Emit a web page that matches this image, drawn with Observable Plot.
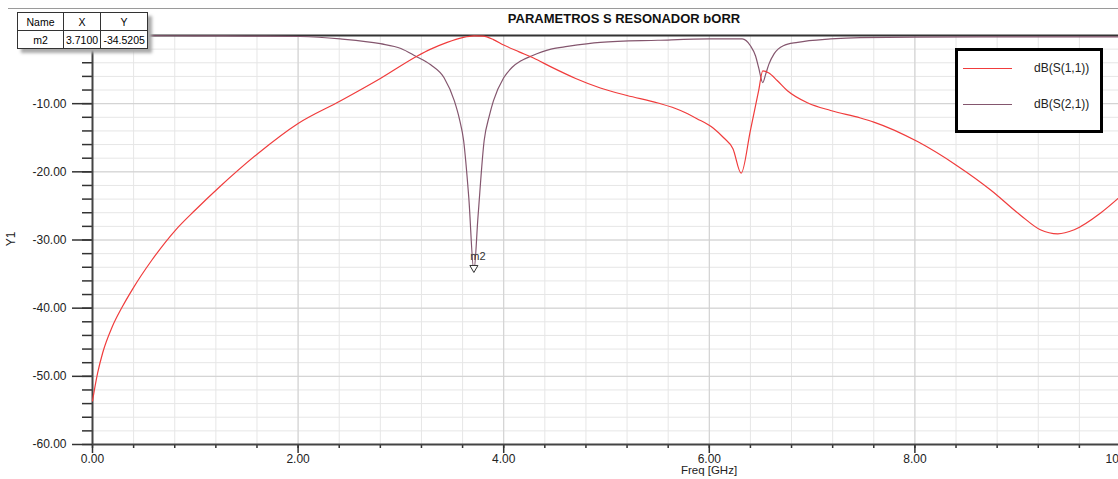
<!DOCTYPE html>
<html>
<head>
<meta charset="utf-8">
<script src="https://cdn.jsdelivr.net/npm/d3@7"></script>
<script src="https://cdn.jsdelivr.net/npm/@observablehq/plot@0.6"></script>
<style>
  html, body { margin: 0; padding: 0; background: #fff; overflow: hidden; }
  #wrap { position: relative; width: 1118px; height: 479px; font-family: "Liberation Sans", Arial, sans-serif; }
  #wrap svg { position: absolute; left: 0; top: 0; }
  .title { position: absolute; left: 0; width: 1248px; top: 11px; text-align: center; font-weight: bold; font-size: 13px; color: #111; }
  .topline { position: absolute; left: 8px; right: 0; top: 8px; height: 1px; background: #9a9a9a; }
  .xlabel { position: absolute; left: 659px; width: 100px; top: 464px; text-align: center; font-size: 11.5px; color: #222; }
  .ylabel { position: absolute; left: 4px; top: 232px; font-size: 12px; color: #222; transform: rotate(-90deg); }
  table.mk { position: absolute; left: 17px; top: 12px; border-collapse: collapse; background: #fff; font-size: 10.5px; box-shadow: 4px 4px 3px #aaa; }
  table.mk td { border: 1px solid #333; text-align: center; padding: 0 2px; height: 17px; }
  .legend { position: absolute; left: 955px; top: 48px; width: 142px; height: 79px; border: 3px solid #000; background: #fff; }
  .legend .row { position: absolute; left: 0; width: 142px; height: 16px; font-size: 12px; color: #222; }
  .legend .sw { position: absolute; left: 5px; top: 7px; width: 49px; height: 0; }
  .legend .lb { position: absolute; left: 76px; top: 0; }
</style>
</head>
<body>
<div id="wrap"></div>
<script>
// ---- data ----
const freqS11 = [0, 0.05, 0.1, 0.19, 0.29, 0.39, 0.58, 0.81, 1.0, 1.23, 1.61, 2.0, 2.41, 2.8, 3.16, 3.29, 3.45, 3.6, 3.71, 3.8, 3.9, 4.0, 4.15, 4.29, 4.46, 4.7, 4.94, 5.2, 5.5, 5.72, 5.88, 6.04, 6.14, 6.23, 6.31, 6.4, 6.48, 6.52, 6.58, 6.66, 6.76, 6.96, 7.18, 7.47, 7.6, 8.03, 8.41, 8.74, 9.03, 9.22, 9.39, 9.55, 9.81, 10.0];
const s11 = [-53.6, -49.5, -46.5, -42.8, -39.8, -37.2, -32.9, -28.5, -25.6, -22.3, -17.3, -12.9, -9.6, -6.3, -3.0, -2.0, -1.0, -0.3, -0.05, -0.1, -0.6, -1.4, -2.4, -3.3, -4.6, -6.3, -7.7, -8.8, -9.9, -11.0, -12.2, -13.6, -15.0, -16.6, -20.2, -13.9, -8.1, -5.2, -5.5, -6.6, -8.1, -9.9, -11.0, -12.1, -12.7, -15.6, -19.1, -22.7, -26.4, -28.5, -29.1, -28.5, -26.0, -23.6];

const freqS21 = [0, 0.5, 1.0, 1.5, 2.02, 2.41, 2.8, 3.0, 3.14, 3.29, 3.42, 3.52, 3.57, 3.61, 3.66, 3.71, 3.75, 3.81, 3.86, 3.9, 4.0, 4.08, 4.17, 4.27, 4.46, 4.62, 4.94, 5.5, 6.0, 6.32, 6.4, 6.45, 6.48, 6.52, 6.55, 6.58, 6.63, 6.72, 6.86, 7.18, 7.47, 8.0, 9.0, 10.0];
const s21 = [-0.02, -0.03, -0.05, -0.08, -0.15, -0.5, -1.2, -1.9, -3.0, -4.3, -6.2, -9.6, -12.3, -15.4, -23.7, -34.52, -26.6, -15.4, -11.8, -9.6, -6.2, -4.7, -3.7, -3.0, -2.0, -1.6, -1.0, -0.7, -0.5, -0.5, -1.5, -3.0, -4.7, -6.9, -5.6, -4.2, -2.7, -1.5, -1.0, -0.5, -0.3, -0.25, -0.2, -0.2];

const seriesNames = ["dB(S(1,1))", "dB(S(2,1))"];
const seriesColors = ["#f03c3c", "#84566e"];

const markerName = "m2";
const markerX = 3.71;
const markerY = -34.5205;

const xMajor = [0, 2, 4, 6, 8, 10];
const xMinor = d3.range(0, 10.001, 0.4).map(v => +v.toFixed(2));
const yMajor = [-60, -50, -40, -30, -20, -10];
const yMinor = d3.range(-60, 0.001, 2);

const titleText = "PARAMETROS S RESONADOR bORR";
const xLabel = "Freq [GHz]";
const yLabel = "Y1";

// ---- build ----
const rowsS11 = freqS11.map((f, i) => ({f, v: s11[i]}));
const rowsS21 = freqS21.map((f, i) => ({f, v: s21[i]}));

const chart = Plot.plot({
  width: 1118,
  height: 479,
  marginLeft: 92,
  marginRight: -2,
  marginTop: 35,
  marginBottom: 35,
  style: {fontFamily: "Liberation Sans, Arial, sans-serif", fontSize: "12px", color: "#333", background: "transparent", overflow: "hidden"},
  x: {domain: [0, 10]},
  y: {domain: [-60, 0]},
  marks: [
    Plot.gridX(xMinor, {stroke: "#e6e6e6", strokeOpacity: 1}),
    Plot.gridY(yMinor, {stroke: "#e6e6e6", strokeOpacity: 1}),
    Plot.gridX(xMajor, {stroke: "#d0d0d0", strokeOpacity: 1}),
    Plot.gridY(yMajor, {stroke: "#d0d0d0", strokeOpacity: 1}),
    Plot.axisY(yMinor, {tickSize: 10, tickFormat: () => "", label: null, strokeWidth: 1.5}),
    Plot.axisY(yMajor, {tickSize: 20, tickPadding: 6, tickFormat: d => d.toFixed(2), label: null, fill: "#222", strokeWidth: 1.5}),
    Plot.axisX(xMinor, {tickSize: 4, tickFormat: () => "", label: null, strokeWidth: 1.5}),
    Plot.axisX(xMajor, {tickSize: 9, tickPadding: 1, tickFormat: d => d.toFixed(2), label: null, fill: "#222", strokeWidth: 1.5}),
    Plot.ruleX([0], {stroke: "#444", strokeWidth: 2}),
    Plot.ruleY([-60], {stroke: "#444", strokeWidth: 2}),
    Plot.ruleY([0], {stroke: "#333", strokeWidth: 2}),
    Plot.line(rowsS21, {x: "f", y: "v", stroke: seriesColors[1], strokeWidth: 1.2, curve: "monotone-x"}),
    Plot.line(rowsS11, {x: "f", y: "v", stroke: seriesColors[0], strokeWidth: 1.2, curve: "monotone-x"}),
    Plot.dot([{f: markerX, v: markerY}], {x: "f", y: "v", symbol: "triangle", rotate: 180, r: 3, fill: "#fff", stroke: "#333", strokeWidth: 1, dy: -3}),
    Plot.text([{f: markerX, v: markerY, t: markerName}], {x: "f", y: "v", text: "t", dx: 4, dy: -14, fill: "#333", fontSize: 11})
  ]
});

const wrap = document.getElementById("wrap");
wrap.appendChild(chart);

const add = (html) => { wrap.insertAdjacentHTML("beforeend", html); };
add(`<div class="topline"></div>`);
add(`<div class="title">${titleText}</div>`);
add(`<div class="xlabel">${xLabel}</div>`);
add(`<div class="ylabel">${yLabel}</div>`);
add(`<table class="mk"><tr><td style="width:41px">Name</td><td style="width:30px">X</td><td style="width:42px">Y</td></tr>
<tr><td>${markerName}</td><td>${markerX.toFixed(4)}</td><td>${markerY.toFixed(4)}</td></tr></table>`);
add(`<div class="legend">
 <div class="row" style="top:10px"><div class="sw" style="border-top:1.5px solid ${seriesColors[0]}"></div><div class="lb">${seriesNames[0]}</div></div>
 <div class="row" style="top:46px"><div class="sw" style="border-top:1.5px solid ${seriesColors[1]}"></div><div class="lb">${seriesNames[1]}</div></div>
</div>`);
</script>
</body>
</html>
